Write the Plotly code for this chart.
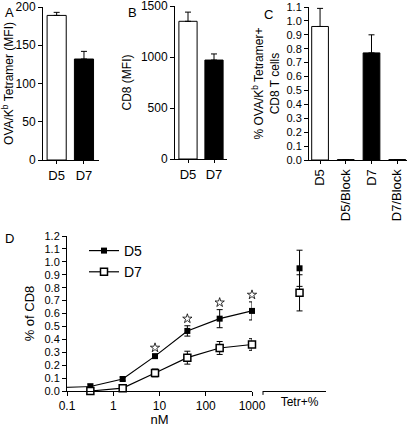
import plotly.graph_objects as go

W, H = 416, 427

# ---------------- data ----------------
A_CATS = ["D5", "D7"]
A_VALS = [189, 132]
A_ERR = [4, 10]

B_CATS = ["D5", "D7"]
B_VALS = [1350, 970]
B_ERR = [90, 60]

C_CATS = ["D5", "D5/Block", "D7", "D7/Block"]
C_VALS = [0.96, 0.003, 0.77, 0.003]
C_ERR = [0.13, 0.0, 0.13, 0.0]
C_FILLS = ["white", "white", "black", "black"]
BAR_FILLS = ["white", "black"]

D_CONC = [0.32, 1.6, 8, 40, 200, 1000]
D5_VALS = [0.035, 0.093, 0.27, 0.465, 0.56, 0.62]
D5_ERR = [0.02, 0.015, 0.01, 0.04, 0.07, 0.07]
D7_VALS = [0.0, 0.022, 0.14, 0.258, 0.333, 0.36]
D7_ERR = [0.015, 0.01, 0.03, 0.05, 0.05, 0.045]
D5_BASE_X = [0.1, 0.32]
D5_BASE_Y = [0.028, 0.035]
STAR_IDX = [2, 3, 4, 5]
STAR_OFFSET = 0.055

TETR_LABEL = ["Tetr+%"]
TETR_D5 = [0.95]
TETR_D5_ERR = [0.14]
TETR_D7 = [0.76]
TETR_D7_ERR = [0.14]

D_XTICKS = [0.1, 1, 10, 100, 1000]
D_XTICKTEXT = ["0.1", "1", "10", "100", "1000"]

FONT = "Liberation Sans, Arial, sans-serif"


def xd(a, b):
    return [a / W, b / W]


def yd(top, bottom):
    return [1 - bottom / H, 1 - top / H]


fig = go.Figure()

ebar = dict(type="data", symmetric=False, color="black", thickness=1, width=3)

# Panel A
fig.add_trace(go.Bar(x=A_CATS, y=A_VALS, width=0.7,
                     marker=dict(color=BAR_FILLS, line=dict(color="black", width=1)),
                     error_y=dict(ebar, array=A_ERR, arrayminus=[0] * len(A_ERR)),
                     xaxis="x", yaxis="y", showlegend=False))
# Panel B
fig.add_trace(go.Bar(x=B_CATS, y=B_VALS, width=0.7,
                     marker=dict(color=BAR_FILLS, line=dict(color="black", width=1)),
                     error_y=dict(ebar, array=B_ERR, arrayminus=[0] * len(B_ERR)),
                     xaxis="x2", yaxis="y2", showlegend=False))
# Panel C
fig.add_trace(go.Bar(x=C_CATS, y=C_VALS, width=0.65,
                     marker=dict(color=C_FILLS, line=dict(color="black", width=1)),
                     error_y=dict(ebar, array=C_ERR, arrayminus=[0] * len(C_ERR)),
                     xaxis="x3", yaxis="y3", showlegend=False))

# Panel D
fig.add_trace(go.Scatter(x=D5_BASE_X, y=D5_BASE_Y, mode="lines",
                         line=dict(color="#222", width=1.2),
                         xaxis="x4", yaxis="y4", showlegend=False, hoverinfo="skip"))
fig.add_trace(go.Scatter(x=D_CONC, y=D5_VALS, mode="lines+markers", name="D5",
                         line=dict(color="black", width=1.2), cliponaxis=False,
                         marker=dict(symbol="square", size=6, color="black"),
                         error_y=dict(type="data", array=D5_ERR, color="black",
                                      thickness=1, width=3),
                         xaxis="x4", yaxis="y4"))
fig.add_trace(go.Scatter(x=D_CONC, y=D7_VALS, mode="lines+markers", name="D7",
                         line=dict(color="black", width=1.2), cliponaxis=False,
                         marker=dict(symbol="square", size=7, color="white",
                                     line=dict(color="black", width=1.5)),
                         error_y=dict(type="data", array=D7_ERR, color="black",
                                      thickness=1, width=3),
                         xaxis="x4", yaxis="y4"))
fig.add_trace(go.Scatter(x=[D_CONC[i] for i in STAR_IDX],
                         y=[D5_VALS[i] + D5_ERR[i] + STAR_OFFSET for i in STAR_IDX],
                         mode="markers", cliponaxis=False,
                         marker=dict(symbol="star-open", size=7, color="black",
                                     line=dict(width=0.8)),
                         xaxis="x4", yaxis="y4", showlegend=False))

# Tetr+% section
fig.add_trace(go.Scatter(x=TETR_LABEL, y=TETR_D5, mode="markers",
                         marker=dict(symbol="square", size=6, color="black"),
                         error_y=dict(type="data", array=TETR_D5_ERR, color="black",
                                      thickness=1, width=3),
                         xaxis="x5", yaxis="y5", showlegend=False))
fig.add_trace(go.Scatter(x=TETR_LABEL, y=TETR_D7, mode="markers",
                         marker=dict(symbol="square", size=7, color="white",
                                     line=dict(color="black", width=1.5)),
                         error_y=dict(type="data", array=TETR_D7_ERR, color="black",
                                      thickness=1, width=3),
                         xaxis="x5", yaxis="y5", showlegend=False))

ax_common = dict(showline=True, linecolor="black", linewidth=1, ticks="outside",
                 ticklen=4, tickwidth=1, tickcolor="black", showgrid=False,
                 zeroline=False, automargin=False, ticklabeloverflow="allow",
                 tickfont=dict(size=12, color="black"))

fig.update_layout(
    template="none",
    width=W, height=H, margin=dict(l=0, r=0, t=0, b=0, pad=0, autoexpand=False),
    paper_bgcolor="white", plot_bgcolor="white",
    font=dict(family=FONT, color="black", size=12),
    bargap=0.3,
    xaxis=dict(ax_common, domain=xd(43, 99), range=[-0.5, 1.55], anchor="y",
               ticklen=3, tickfont=dict(size=13)),
    yaxis=dict(ax_common, domain=yd(7, 160), range=[0, 200], anchor="x",
               tickvals=[0, 50, 100, 150, 200],
               title=dict(text="OVA/K<sup>b</sup> Tetramer (MFI)", font=dict(size=12),
                          standoff=6)),
    xaxis2=dict(ax_common, domain=xd(175, 227), range=[-0.5, 1.5], anchor="y2",
                ticklen=3, tickfont=dict(size=13)),
    yaxis2=dict(ax_common, domain=yd(6, 159), range=[0, 1500], anchor="x2",
                tickvals=[0, 500, 1000, 1500],
                title=dict(text="CD8 (MFI)", font=dict(size=12), standoff=6)),
    xaxis3=dict(ax_common, domain=xd(309, 407), range=[-0.43, 3.38], anchor="y3",
                ticklen=3, tickangle=-90, tickfont=dict(size=13)),
    yaxis3=dict(ax_common, domain=yd(7, 160), range=[0, 1.1], anchor="x3",
                tickvals=[i / 10 for i in range(12)], tickformat=".1f",
                tickfont=dict(size=11),
                title=dict(text="% OVA/K<sup>b</sup> Tetramer+<br>CD8 T cells",
                           font=dict(size=12), standoff=4)),
    xaxis4=dict(ax_common, domain=xd(67, 252), type="log", range=[-1, 3], anchor="y4",
                tickvals=D_XTICKS, ticktext=D_XTICKTEXT, tickfont=dict(size=12),
                title=dict(text="nM", font=dict(size=13), standoff=4)),
    yaxis4=dict(ax_common, domain=yd(236, 391), range=[0, 1.2], anchor="x4",
                tickvals=[i / 10 for i in range(13)], tickformat=".1f",
                tickfont=dict(size=11),
                title=dict(text="% of CD8", font=dict(size=13), standoff=6)),
    xaxis5=dict(ax_common, domain=xd(263, 326), range=[-0.58, 0.42], anchor="y5",
                type="category", ticks="", tickfont=dict(size=12)),
    yaxis5=dict(domain=yd(236, 391), range=[0, 1.2], anchor="x5", visible=False),
    legend=dict(x=84 / W, y=1 - 235 / H, xanchor="left", yanchor="top",
                font=dict(size=14), bgcolor="rgba(0,0,0,0)", itemwidth=30,
                tracegroupgap=0, borderwidth=0),
    showlegend=True,
)

# left-end tick of the broken axis
fig.add_shape(type="line", xref="x5 domain", yref="y5 domain",
              x0=0, x1=0, y0=0, y1=-0.025, line=dict(color="black", width=1))

for txt, px, py in [("A", 3, 3), ("B", 126, 3), ("C", 262, 5), ("D", 3, 229)]:
    fig.add_annotation(text=txt, x=px / W, y=1 - py / H, xref="paper", yref="paper",
                       xanchor="left", yanchor="top", showarrow=False,
                       font=dict(size=13, color="black"))

fig.write_html("out.html",
               config={"displayModeBar": False},
               post_script="document.body.style.margin='0';"
                           "document.body.style.overflow='hidden';")
